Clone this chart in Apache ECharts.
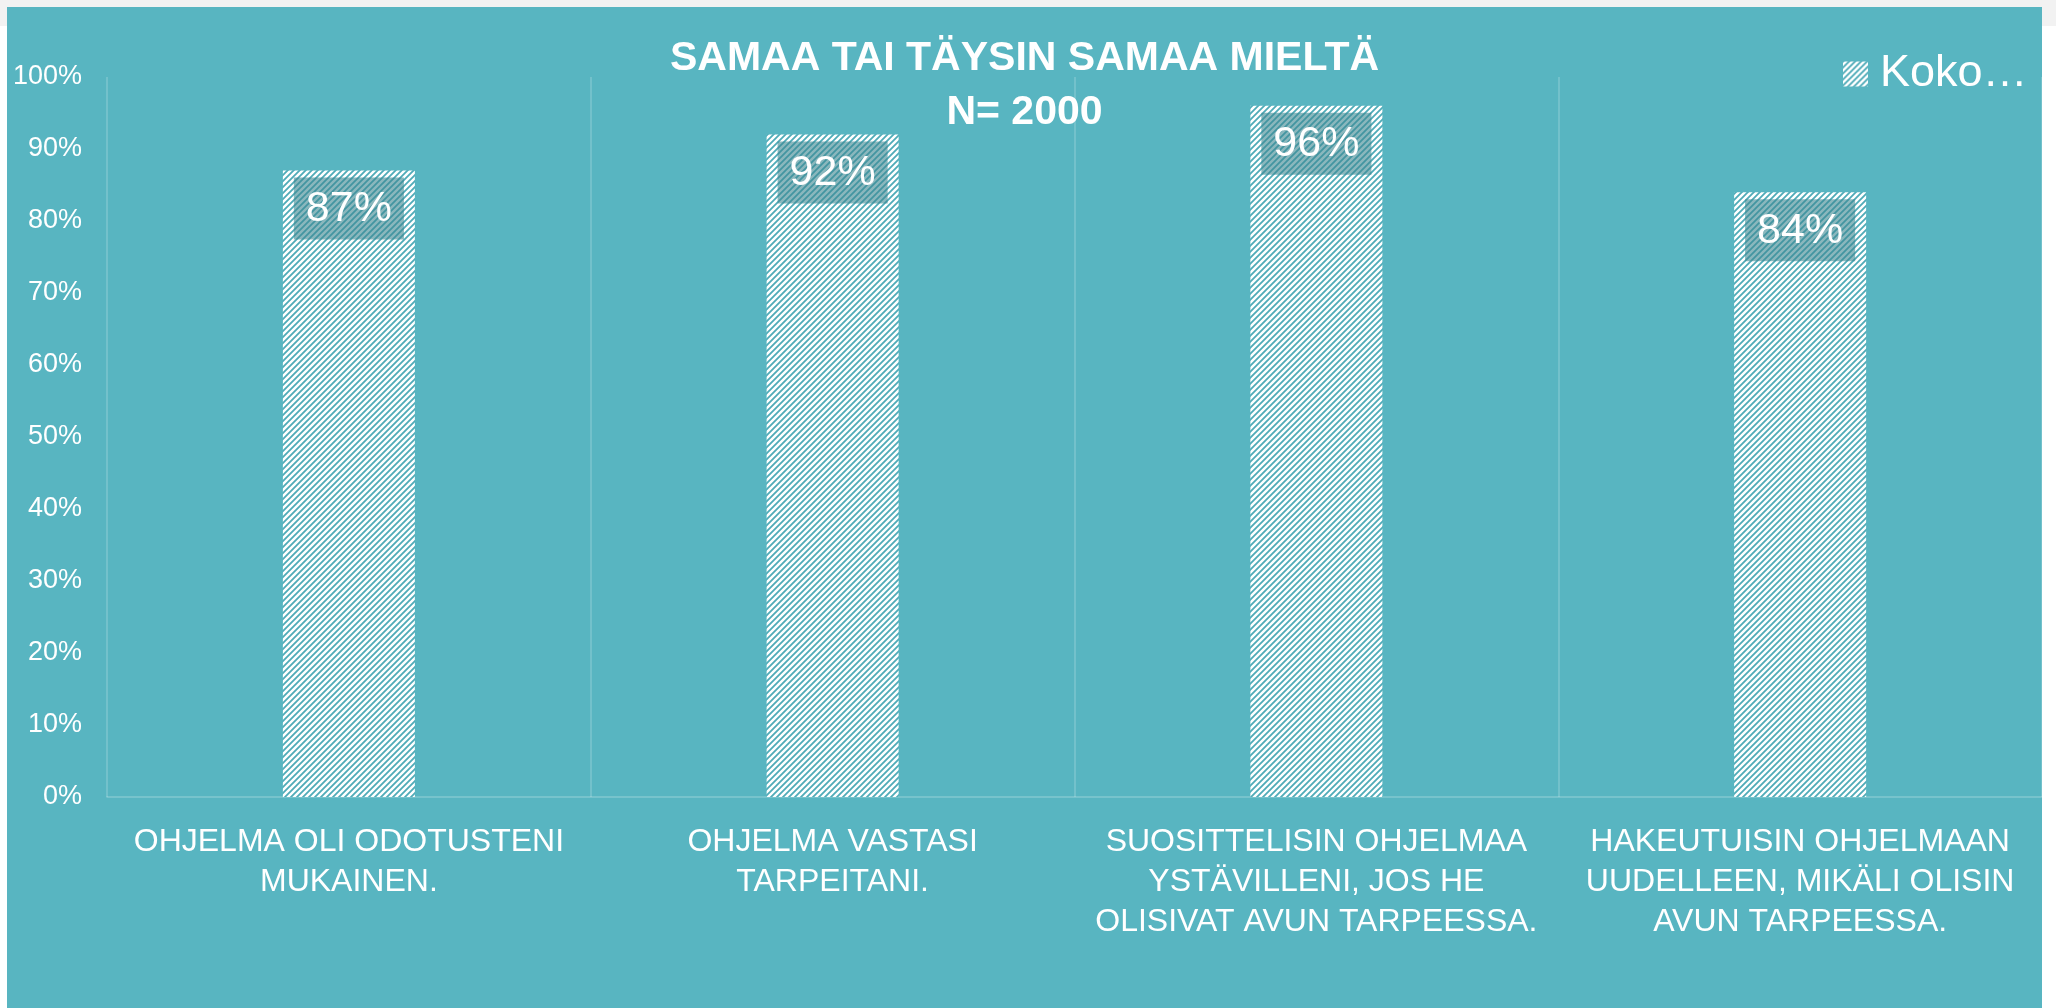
<!DOCTYPE html>
<html>
<head>
<meta charset="utf-8">
<script src="https://cdn.jsdelivr.net/npm/echarts@6/dist/echarts.min.js"></script>
<style>
  html, body { margin: 0; padding: 0; background: #ffffff; }
  #topbar { position: absolute; left: 0; top: 0; width: 2056px; height: 26px; background: #f2f2f2; }
  #chart { position: absolute; left: 7px; top: 7px; width: 2035px; height: 1001px; background: #58b5c1; }
</style>
</head>
<body>
<div id="topbar"></div>
<div id="chart"></div>
<script>
// kategoriat (rivitys kuten kuvassa)
const categories = [
    'OHJELMA OLI ODOTUSTENI\nMUKAINEN.',
    'OHJELMA VASTASI\nTARPEITANI.',
    'SUOSITTELISIN OHJELMAA\nYSTÄVILLENI, JOS HE\nOLISIVAT AVUN TARPEESSA.',
    'HAKEUTUISIN OHJELMAAN\nUUDELLEEN, MIKÄLI OLISIN\nAVUN TARPEESSA.'
]
const values = [87, 92, 96, 84]
const seriesName = 'Koko…'
const titleText = 'SAMAA TAI TÄYSIN SAMAA MIELTÄ\nN= 2000'

const bg = '#58b5c1'
const font = "'Liberation Sans', Arial, sans-serif"

// vinoviivoitus palkkeihin
function hatch() {
    const c = document.createElement('canvas')
    c.width = 6
    c.height = 6
    const ctx = c.getContext('2d')
    ctx.fillStyle = '#ffffff'
    ctx.fillRect(0, 0, 6, 6)
    ctx.strokeStyle = '#4fabb8'
    ctx.lineWidth = 1.8
    ctx.beginPath()
    ctx.moveTo(-1, 7); ctx.lineTo(7, -1)
    ctx.moveTo(-1, 1); ctx.lineTo(1, -1)
    ctx.moveTo(5, 7); ctx.lineTo(7, 5)
    ctx.stroke()
    return { image: c, repeat: 'repeat' }
}

const chart = echarts.init(document.getElementById('chart'))
const pattern = hatch()

chart.setOption({
    backgroundColor: bg,
    animation: false,
    title: {
        text: titleText,
        left: 'center',
        top: 25,
        padding: 0,
        textStyle: {
            color: '#ffffff',
            fontFamily: font,
            fontWeight: 'bold',
            fontSize: 41,
            lineHeight: 54
        }
    },
    legend: {
        data: [seriesName],
        left: 1836,
        top: 42,
        padding: 0,
        itemWidth: 25,
        itemHeight: 25,
        icon: 'rect',
        textStyle: {
            color: '#ffffff',
            fontFamily: font,
            fontSize: 45,
            lineHeight: 50,
            padding: [0, 0, 0, 7]
        }
    },
    grid: {
        left: 100,
        right: 0,
        top: 70,
        bottom: 211,
        containLabel: false
    },
    xAxis: {
        type: 'category',
        data: categories,
        axisLine: { lineStyle: { color: 'rgba(255,255,255,0.25)', width: 1.5 } },
        axisTick: { show: false },
        splitLine: { show: true, lineStyle: { color: 'rgba(255,255,255,0.22)', width: 1.5 } },
        axisLabel: {
            color: '#ffffff',
            fontFamily: font,
            fontSize: 32,
            lineHeight: 40,
            margin: 25,
            interval: 0
        }
    },
    yAxis: {
        type: 'value',
        min: 0,
        max: 100,
        interval: 10,
        axisLine: { show: false },
        axisTick: { show: false },
        splitLine: { show: false },
        axisLabel: {
            color: '#ffffff',
            fontFamily: font,
            fontSize: 27,
            margin: 25,
            formatter: '{value}%'
        }
    },
    series: [{
        name: seriesName,
        type: 'bar',
        data: values,
        barWidth: 132,
        itemStyle: { color: pattern },
        label: {
            show: true,
            position: 'insideTop',
            distance: 7,
            formatter: '{c}%',
            color: '#ffffff',
            fontFamily: font,
            fontSize: 43,
            padding: [10, 12, 9, 12],
            backgroundColor: 'rgba(60,135,145,0.6)'
        }
    }]
})
</script>
</body>
</html>
